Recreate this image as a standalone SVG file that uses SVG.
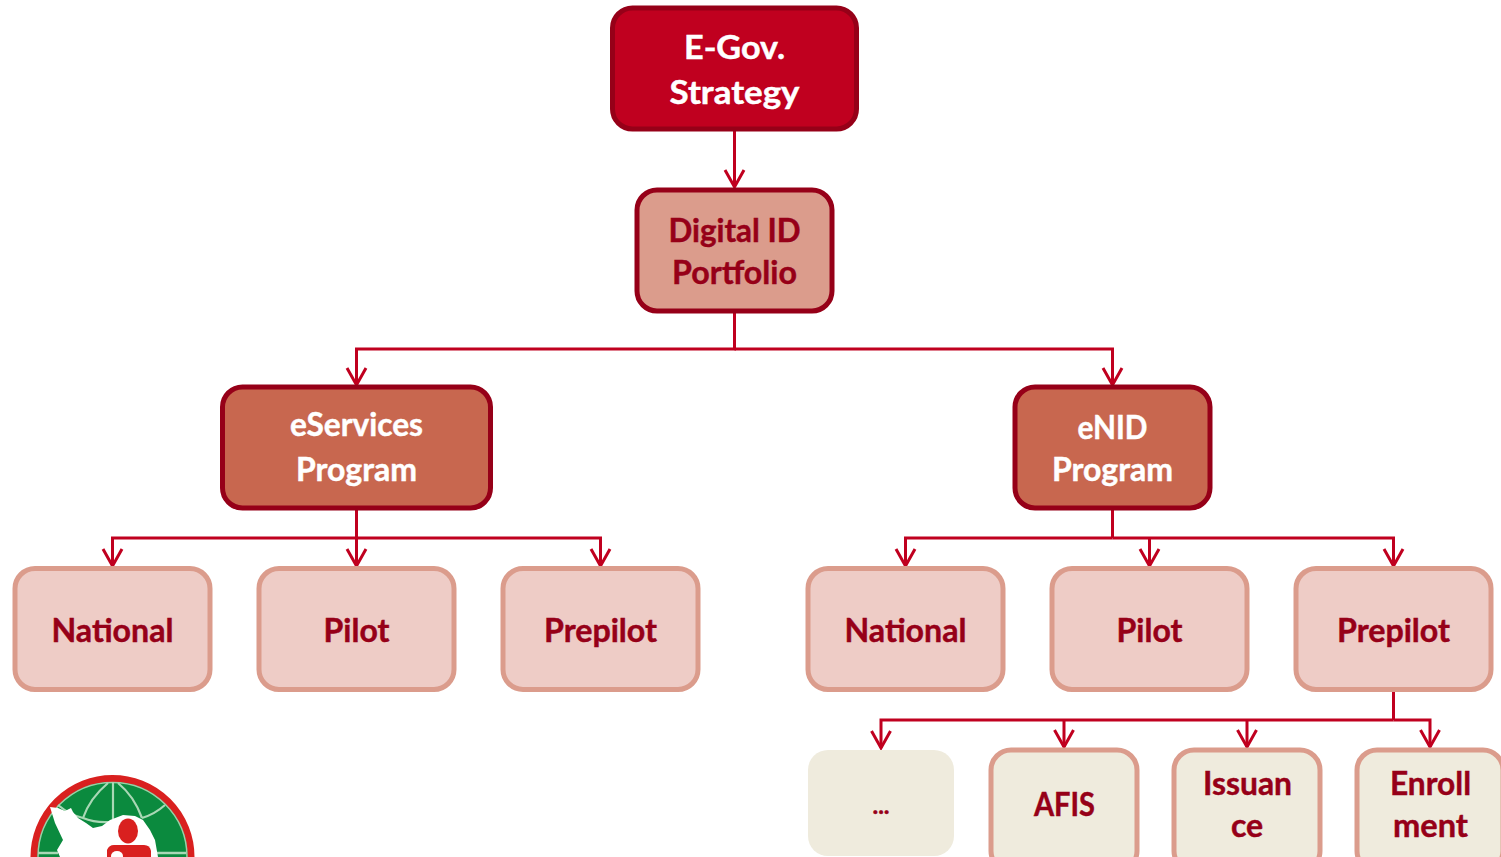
<svg xmlns="http://www.w3.org/2000/svg" width="1501" height="857" viewBox="0 0 1501 857">
<style>
text{font-family:Lato,"Liberation Sans",sans-serif;font-weight:700;text-anchor:middle;stroke-width:.45}
.t{font-size:32px}
.a{fill:#c0001f;stroke:#960018;stroke-width:5}
.b{fill:#db9c8c;stroke:#960018;stroke-width:5}
.c{fill:#c8674f;stroke:#960018;stroke-width:5}
.d{fill:#eeccc6;stroke:#db9c8c;stroke-width:5}
.e{fill:#efebdd;stroke:#db9c8c;stroke-width:5}
.w{fill:#fff;stroke:#fff}.r{fill:#960018;stroke:#960018}
#conn path{fill:none;stroke:#c0001f;stroke-width:3}
</style>
<g id="conn">
<path d="M734.500 131V187"/><path d="M725 170L734.500 187L744 170"/>
<path d="M734.500 312V349H356.500V385"/><path d="M734.500 349H1112.500V385"/>
<path d="M347 368L356.500 385L366 368"/><path d="M1103 368L1112.500 385L1122 368"/>
<path d="M356.500 509V566"/><path d="M356.500 538H112.500V566"/><path d="M356.500 538H600.500V566"/>
<path d="M103 549L112.500 566L122 549"/><path d="M347 549L356.500 566L366 549"/><path d="M591 549L600.500 566L610 549"/>
<path d="M1112.500 509V538"/><path d="M1112.500 538H905.500V566"/><path d="M1149.500 538V566"/><path d="M1112.500 538H1393.500V566"/>
<path d="M896 549L905.500 566L915 549"/><path d="M1140 549L1149.500 566L1159 549"/><path d="M1384 549L1393.500 566L1403 549"/>
<path d="M1393.500 691V720"/><path d="M1393.500 720H881V748"/><path d="M1064 720V747"/><path d="M1247 720V747"/><path d="M1393.500 720H1430V747"/>
<path d="M871.500 731L881 748L890.500 731"/><path d="M1054.500 730L1064 747L1073.500 730"/><path d="M1237.500 730L1247 747L1256.500 730"/><path d="M1420.500 730L1430 747L1439.500 730"/>
</g>
<g id="n-egov"><rect class="a" x="612.500" y="8" width="244" height="121" rx="20"/><text class="t w" x="734.500" y="59" textLength="101" lengthAdjust="spacingAndGlyphs">E-Gov.</text><text class="t w" x="734.500" y="104" textLength="130" lengthAdjust="spacingAndGlyphs">Strategy</text></g>
<g id="n-portfolio"><rect class="b" x="637" y="190" width="195" height="121" rx="20"/><text class="t r" x="734.500" y="242" textLength="132" lengthAdjust="spacingAndGlyphs">Digital ID</text><text class="t r" x="734.500" y="284" textLength="125" lengthAdjust="spacingAndGlyphs">Portfolio</text></g>
<g id="n-eservices"><rect class="c" x="222.500" y="387" width="268" height="121" rx="20"/><text class="t w" x="356.500" y="436" textLength="133" lengthAdjust="spacingAndGlyphs">eServices</text><text class="t w" x="356.500" y="481" textLength="121" lengthAdjust="spacingAndGlyphs">Program</text></g>
<g id="n-enid"><rect class="c" x="1015" y="387" width="195" height="121" rx="20"/><text class="t w" x="1112.500" y="439" textLength="70" lengthAdjust="spacingAndGlyphs">eNID</text><text class="t w" x="1112.500" y="481" textLength="121" lengthAdjust="spacingAndGlyphs">Program</text></g>
<g id="n-national1"><rect class="d" x="15" y="568.500" width="195" height="121" rx="20"/><text class="t r" x="112.500" y="641.500" textLength="122" lengthAdjust="spacingAndGlyphs">National</text></g>
<g id="n-pilot1"><rect class="d" x="259" y="568.500" width="195" height="121" rx="20"/><text class="t r" x="356.500" y="641.500">Pilot</text></g>
<g id="n-prepilot1"><rect class="d" x="503" y="568.500" width="195" height="121" rx="20"/><text class="t r" x="600.500" y="641.500" textLength="113" lengthAdjust="spacingAndGlyphs">Prepilot</text></g>
<g id="n-national2"><rect class="d" x="808" y="568.500" width="195" height="121" rx="20"/><text class="t r" x="905.500" y="641.500" textLength="122" lengthAdjust="spacingAndGlyphs">National</text></g>
<g id="n-pilot2"><rect class="d" x="1052" y="568.500" width="195" height="121" rx="20"/><text class="t r" x="1149.500" y="641.500">Pilot</text></g>
<g id="n-prepilot2"><rect class="d" x="1296" y="568.500" width="195" height="121" rx="20"/><text class="t r" x="1393.500" y="641.500" textLength="113" lengthAdjust="spacingAndGlyphs">Prepilot</text></g>
<g id="n-dots"><rect x="808" y="750" width="146" height="106" rx="20" fill="#efebdd"/><text class="r" x="881" y="814" font-size="24">...</text></g>
<g id="n-afis"><rect class="e" x="991" y="750" width="146" height="121" rx="20"/><text class="t r" x="1064.500" y="815.500" textLength="61" lengthAdjust="spacingAndGlyphs">AFIS</text></g>
<g id="n-issuance"><rect class="e" x="1174" y="750" width="146" height="121" rx="20"/><text class="t r" x="1247.500" y="795" textLength="89" lengthAdjust="spacingAndGlyphs">Issuan</text><text class="t r" x="1247" y="837">ce</text></g>
<g id="n-enrollment"><rect class="e" x="1357" y="750" width="146" height="121" rx="20"/><text class="t r" x="1430.500" y="795" textLength="81" lengthAdjust="spacingAndGlyphs">Enroll</text><text class="t r" x="1430.500" y="837" textLength="75" lengthAdjust="spacingAndGlyphs">ment</text></g>
<g id="logo">
<circle cx="112.500" cy="857" r="78.500" fill="#0b8a3e" stroke="#d9201f" stroke-width="7"/>
<circle cx="112.500" cy="857" r="74.500" fill="none" stroke="#9ccfa6" stroke-width="1.500"/>
<g fill="none" stroke="#a9d8b5" stroke-width="2.200"><path d="M113 782V819"/><path d="M108 783Q90 798 83 818"/><path d="M118 783Q134 796 142 818"/><path d="M58 805Q70 815 83 818Q95 823 110 822"/><path d="M142 818Q155 814 165 805"/></g>
<path d="M38 853H58M157 853H186" stroke="#a9d8b5" stroke-width="2.500" fill="none"/>
<path d="M50 807L58 808L65 811L71 808L73 812L78 818L86 823L93 828L102 826L110 820L123 815L135 816L143 820L150 830L155 840L158 857H60L57 850L63 840L55 823Z" fill="#fff"/>
<ellipse cx="128" cy="831" rx="10" ry="12.500" fill="#d9201f"/>
<path d="M107 857V850Q109 845 114 845H144Q150 845 151 851V857Z" fill="#d9201f"/>
<ellipse cx="117" cy="856" rx="6" ry="5" fill="#fff"/>
</g>
</svg>
